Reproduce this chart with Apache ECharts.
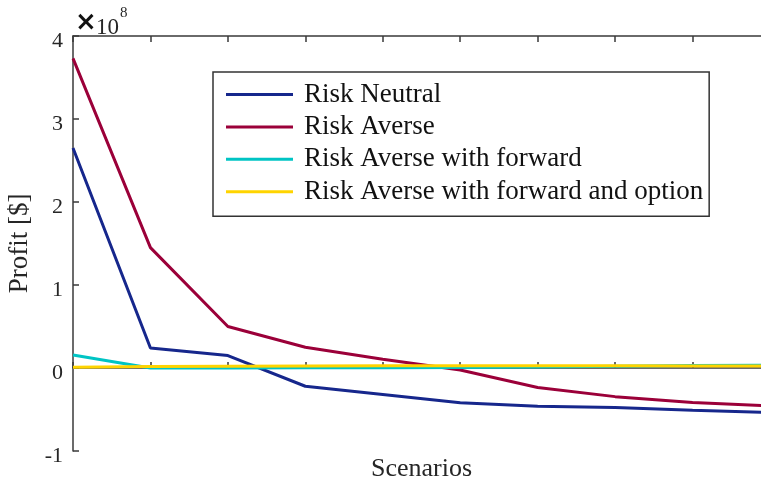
<!DOCTYPE html>
<html>
<head>
<meta charset="utf-8">
<script src="https://cdn.jsdelivr.net/npm/echarts@6/dist/echarts.min.js"></script>
<style>
  html, body { margin: 0; padding: 0; background: #fff; }
  #chart { width: 761px; height: 481px; }
</style>
</head>
<body>
<div id="chart"></div>
<script>
// Scenario index along the x axis
const scenarios = [1, 2, 3, 4, 5, 6, 7, 8, 9, 10];

// Profit per scenario, in dollars
const riskNeutral = [2.65e8, 0.24e8, 0.15e8, -0.22e8, -0.32e8, -0.42e8, -0.46e8, -0.475e8, -0.51e8, -0.535e8];
const riskAverse = [3.73e8, 1.45e8, 0.50e8, 0.25e8, 0.105e8, -0.025e8, -0.235e8, -0.345e8, -0.415e8, -0.455e8];
const riskAverseForward = [0.157e8, 0.0, 0.0, 0.002e8, 0.004e8, 0.006e8, 0.012e8, 0.022e8, 0.030e8, 0.034e8];
const riskAverseForwardOption = [0.010e8, 0.018e8, 0.022e8, 0.024e8, 0.026e8, 0.027e8, 0.027e8, 0.026e8, 0.025e8, 0.025e8];

const seriesNames = ['Risk Neutral', 'Risk Averse', 'Risk Averse with forward', 'Risk Averse with forward and option'];
const seriesColors = ['#16278c', '#9b0039', '#00c4c4', '#ffd400'];
const seriesValues = [riskNeutral, riskAverse, riskAverseForward, riskAverseForwardOption];

// y axis ticks shown in units of 10^8
const yTicks = [-1, 0, 1, 2, 3, 4];
const yScale = 1e8;

const serif = '"Liberation Serif", "Times New Roman", serif';
const axisColor = '#3a3a3a';

const chart = echarts.init(document.getElementById('chart'), null, { renderer: 'canvas' });

const series = seriesNames.map((name, i) => ({
  name: name,
  type: 'line',
  data: scenarios.map((s, j) => [s, seriesValues[i][j]]),
  symbol: 'none',
  clip: true,
  lineStyle: { color: seriesColors[i], width: 3 },
  itemStyle: { color: seriesColors[i] },
  animation: false
}));

chart.setOption({
  backgroundColor: '#fff',
  animation: false,
  grid: { left: 73, top: 36, bottom: 30, right: -9, containLabel: false, outerBoundsMode: 'none' },
  xAxis: [
    {
      type: 'value',
      min: scenarios[0],
      max: scenarios[scenarios.length - 1],
      interval: 1,
      name: 'Scenarios',
      nameLocation: 'middle',
      nameGap: 5,
      nameTextStyle: { fontFamily: serif, fontSize: 26, color: '#262626' },
      axisLine: { show: true, lineStyle: { color: axisColor, width: 1.5 } },
      axisTick: { show: true, inside: true, length: 6, lineStyle: { color: axisColor, width: 1.5 } },
      axisLabel: { show: false },
      splitLine: { show: false }
    },
    {
      type: 'value',
      position: 'top',
      min: scenarios[0],
      max: scenarios[scenarios.length - 1],
      interval: 1,
      axisLine: { show: true, lineStyle: { color: axisColor, width: 1.5 } },
      axisTick: { show: true, inside: true, length: 6, lineStyle: { color: axisColor, width: 1.5 } },
      axisLabel: { show: false },
      splitLine: { show: false }
    }
  ],
  yAxis: {
    type: 'value',
    min: yTicks[0] * yScale,
    max: yTicks[yTicks.length - 1] * yScale,
    interval: yScale,
    name: 'Profit [$]',
    nameLocation: 'middle',
    nameGap: 37,
    nameTextStyle: { fontFamily: serif, fontSize: 27, color: '#262626' },
    axisLine: { show: true, lineStyle: { color: axisColor, width: 1.5 } },
    axisTick: { show: true, inside: true, length: 6, lineStyle: { color: axisColor, width: 1.5 } },
    axisLabel: {
      fontFamily: serif, fontSize: 22, lineHeight: 10, verticalAlign: 'top',
      color: '#262626', margin: 10,
      formatter: v => String(Math.round(v / yScale))
    },
    splitLine: { show: false }
  },
  legend: {
    orient: 'vertical',
    left: 213,
    top: 72,
    data: seriesNames,
    icon: 'rect',
    itemWidth: 67,
    itemHeight: 3,
    itemGap: 5.4,
    padding: [9, 6, 11, 13],
    borderColor: '#333',
    borderWidth: 1.5,
    backgroundColor: '#fff',
    textStyle: { fontFamily: serif, fontSize: 27, lineHeight: 26, color: '#111', padding: [0, 0, 0, 6] }
  },
  graphic: [
    { type: 'text', left: 75, top: 10, style: { text: '×', font: 'bold 26px "DejaVu Sans", sans-serif', fill: '#111' } },
    { type: 'text', left: 96, top: 16, style: { text: '10', font: '23px ' + serif, fill: '#262626' } },
    { type: 'text', left: 120, top: 6, style: { text: '8', font: '15px ' + serif, fill: '#262626' } }
  ],
  series: series
});
</script>
</body>
</html>
